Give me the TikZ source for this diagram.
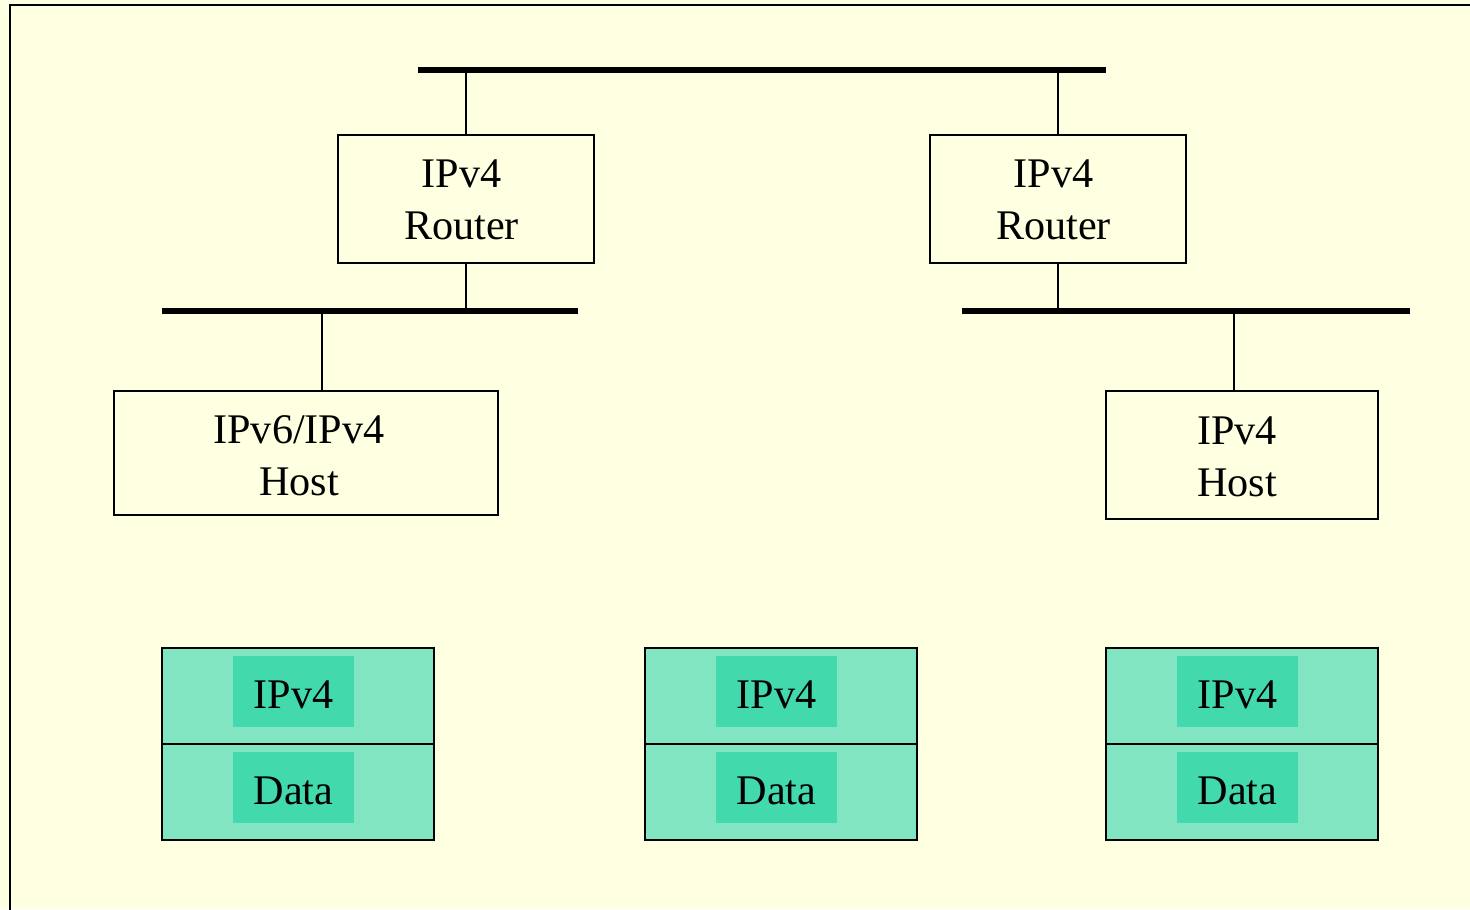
\documentclass[tikz,border=0pt]{standalone}
\usepackage{fontspec}
\setmainfont{Liberation Serif}
\definecolor{paper}{RGB}{255,255,225}
\definecolor{pktlight}{RGB}{128,229,192}
\definecolor{pktdark}{RGB}{66,217,172}
\tikzset{
  txt/.style={font=\fontsize{12}{14.8}\selectfont, align=center, inner sep=0pt},
  devbox/.style={draw=black, line width=0.6pt, fill=paper, inner sep=0pt},
  bus/.style={line width=1.5pt},
  link/.style={line width=0.6pt},
  half/.style={draw=black, line width=0.6pt, fill=pktlight,
    minimum width=2.72cm, minimum height=0.96cm, inner sep=0pt},
  hdr/.style={txt, fill=pktdark, minimum width=1.21cm, minimum height=0.71cm,
    text height=9.9pt, text depth=0pt}
}
\begin{document}
\begin{tikzpicture}[x=0.01cm, y=-0.01cm]
  % page background and frame
  \fill[paper] (0,0) rectangle (1470,909);
  \useasboundingbox (0,0) rectangle (1470,909);
  \draw[line width=0.5pt] (10,915) -- (10,5) -- (1480,5);

  % buses
  \coordinate (bt1) at (418,70);  \coordinate (bt2) at (1106,70);
  \coordinate (bl1) at (162,311); \coordinate (bl2) at (578,311);
  \coordinate (br1) at (962,311); \coordinate (br2) at (1410,311);
  \draw[bus] (bt1) -- (bt2);
  \draw[bus] (bl1) -- (bl2);
  \draw[bus] (br1) -- (br2);

  % routers and hosts
  \node[devbox, minimum width=2.56cm, minimum height=1.28cm] (r1) at (466,199) {};
  \node[devbox, minimum width=2.56cm, minimum height=1.28cm] (r2) at (1058,199) {};
  \node[devbox, minimum width=3.84cm, minimum height=1.24cm] (h1) at (306,453) {};
  \node[devbox, minimum width=2.72cm, minimum height=1.28cm] (h2) at (1242,455) {};
  \node[txt] (r1t) at ([shift={(-4.5,1)}]r1.center) {IPv4\\Router};
  \node[txt] (r2t) at ([shift={(-4.5,1)}]r2.center) {IPv4\\Router};
  \node[txt] (h1t) at ([shift={(-7,2.5)}]h1.center) {IPv6/IPv4\\Host};
  \node[txt] (h2t) at ([shift={(-5,1.5)}]h2.center) {IPv4\\Host};

  % attachments to the buses
  \draw[link] (r1.north) -- (r1.north |- bt1);
  \draw[link] (r1.south) -- (r1.south |- bl1);
  \draw[link] (r2.north) -- (r2.north |- bt1);
  \draw[link] (r2.south) -- (r2.south |- br1);
  \draw[link] (h1.north -| 322,0) -- (322,311);
  \draw[link] (h2.north -| 1234,0) -- (1234,311);

  % packets: header and payload halves
  \foreach \cx/\n in {298/a, 781/b, 1242/c} {
    \node[half] (top\n) at (\cx,696) {};
    \node[half] (bot\n) at (\cx,792) {};
    \node[hdr] (ip\n) at ([shift={(-4.5,-4.5)}]top\n.center) {IPv4};
    \node[hdr] (data\n) at ([shift={(-4.5,-4.5)}]bot\n.center) {Data};
  }
\end{tikzpicture}
\end{document}
